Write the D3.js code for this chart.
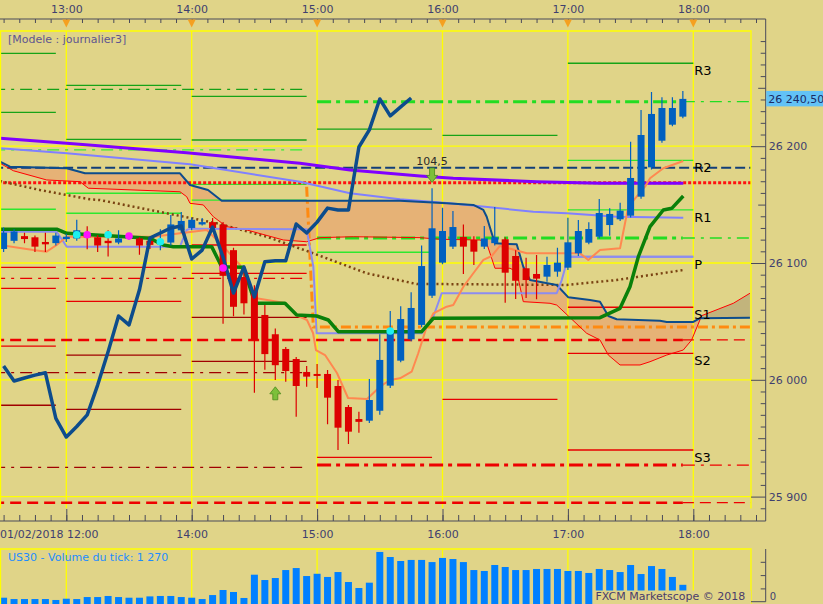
<!DOCTYPE html>
<html>
<head>
<meta charset="utf-8">
<script src="https://cdnjs.cloudflare.com/ajax/libs/d3/7.8.5/d3.min.js"></script>
<style>
html, body { margin:0; padding:0; background:#e0d488; overflow:hidden; }
svg { display:block; font-family:"DejaVu Sans", Verdana, sans-serif; }
</style>
</head>
<body>
<svg id="chart" width="823" height="604"></svg>
<script>
// US30 5 min candles, 01/02/2018 12:30 -> 17:55
var opens  = [26112,26119,26123,26122,26118,26117,26120.5,26121,26124,26122,26119,26117.5,26122,26121,26119,26116,26117.5,26128,26130,26133,26135,26133,26111,26088,26077,26055.5,26039,26026.4,26017.8,26006.7,26005,26005,25994.7,25976.7,25966.4,25965,25973.5,25995,26016.4,26034.7,26047,26072,26100.3,26114,26122.3,26119.7,26114,26117,26120.3,26106,26095.5,26090.6,26088.3,26092.6,26096,26108.3,26117.4,26122.5,26132.5,26137.4,26140.5,26156.8,26181.9,26204.7,26218.4,26225.3];
var highs  = [26130.5,26129,26126,26123.5,26126,26126,26125,26137,26131.5,26124,26128,26128,26125,26122,26121,26129,26141,26143.7,26139,26138.5,26138.5,26135,26113,26092.5,26081,26064,26044,26028,26019.5,26011.8,26013.5,26008.4,25999.8,25978.4,25972.7,26000.7,26039,26059,26063,26075,26115,26164,26147.3,26144.5,26133,26123,26131.7,26148,26122,26111,26104.5,26106.8,26105.4,26113.1,26138.8,26136.8,26134.8,26154.8,26146.8,26151.6,26203.9,26231,26246.4,26241.9,26241.9,26247.3];
var lows   = [26109.5,26117,26117,26109.5,26109.5,26115,26118,26119,26111.7,26109.5,26105.5,26116,26120,26107,26112,26111,26115,26126,26128,26132,26129,26048,26054.5,26056,25989,26008.5,25999.8,25998.4,25968.4,25994,25993,25962,25940,25945,25954.7,25963,25970,25993,26015,26033,26045,26070,26099,26112,26090.6,26098.3,26112,26115,26066,26069.2,26070,26069,26084,26088.3,26094,26106,26116,26121,26123.4,26136,26139,26155,26180,26203,26217,26224];
var closes = [26126,26127,26120.5,26114,26116,26123.5,26122.5,26128,26122,26115,26117,26121,26123,26115,26115.5,26119,26133,26136,26137,26135,26130,26089,26062.5,26065.5,26034,26022,26012.5,26007.5,25994.7,26002.7,26003.7,25984.7,25959,25955.6,25964,25982.7,26017,26041,26052,26061.5,26097.4,26129.7,26127.4,26130.8,26114,26109.7,26121,26122,26091.7,26084.8,26085.4,26086.6,26098.3,26100.3,26117.7,26127.4,26129.1,26142.8,26142,26144.8,26172.8,26209.6,26227.6,26232.7,26232.7,26240.5];
var volumes = [300,200,200,200,200,130,225,200,350,350,430,350,300,300,400,430,430,350,300,200,500,880,730,280,2030,1630,1780,2380,2530,1930,2100,1860,2230,1480,1030,1430,3740,3360,3060,3140,3140,2980,3290,3210,2980,2380,2310,2760,2610,2380,2380,2460,2460,2460,2310,2310,2160,2460,2380,2230,2760,2080,2680,2460,1860,1270];

// lagging line, one value per bar from 12:30
var chikou = [26011.8,25999,26001.5,26004,26006,25967,25951,25960,25970,25995.5,26024,26054.6,26047,26077,26121.4,26125.7,26130,26131.7,26103.4,26111,26130.8,26105,26074.3,26096.6,26071,26101,26102,26102,26133.4,26125.7,26135,26147,26145.4,26145.4,26199.3,26214,26240.4,26226,26233.6,26241.3];

// indicator lines as [bar index, price]
var senkouA = [[-0.34,26185.4],[0.93,26179],[4.12,26171.1],[7.31,26169.6],[8.11,26164],[16.88,26161],[17.52,26156.8],[17.84,26151.1],[19.11,26149.7],[20.07,26139.6],[21.35,26131.1],[23.26,26128.3],[26.77,26119.7],[29.0,26118.2],[30.28,26121.7],[33.46,26122.5],[39.85,26121.7],[41.76,26120.3],[45.59,26119.7],[46.23,26116.9],[47.02,26095.5],[48.46,26095.5],[49.1,26092.6],[49.73,26066.9],[52.29,26065.5],[52.93,26064],[55.8,26039.8],[57.07,26034.1],[57.87,26021.2],[58.99,26012.7],[60.9,26012.7],[61.86,26015.5],[63.46,26021.2],[65.04,26025.5],[65.84,26034.1],[66.8,26054.9],[69.83,26065.5],[71.42,26074.1]];
var senkouB = [[-0.34,26186.7],[0.61,26182.5],[6.04,26181.1],[7.79,26176.8],[16.88,26176.8],[17.84,26166.8],[19.56,26162.5],[20.87,26153.3],[37.93,26153.3],[42.4,26151.1],[44.95,26149.7],[45.91,26145.4],[46.23,26139.6],[46.71,26125.4],[47.02,26116.9],[49.1,26116],[49.73,26096.8],[50.37,26085.4],[52.93,26081.2],[54.04,26070.6],[56.11,26068.3],[57.07,26066.9],[57.87,26054.6],[58.67,26051.8],[62.81,26050.6],[63.46,26049.5],[66.0,26049.5],[66.64,26052.7],[71.42,26053.2]];
var cloudTwist = 66.5;
var purpleMA = [[-0.34,26206.8],[6.04,26202.5],[17.52,26194.4],[28.36,26185.4],[33.15,26179.6],[39.85,26174.5],[43.03,26172.5],[51.01,26169.6],[57.07,26168.2],[65.04,26168.2]];
var lavenderMA = [[-0.34,26198.2],[6.04,26193.9],[17.84,26184.5],[28.36,26169.6],[33.15,26159.7],[37.93,26154.5],[42.72,26151.1],[47.5,26146.8],[50.69,26143.9],[53.89,26142.6],[58.67,26139.6],[65.04,26138.8]];
var kijun = [[-0.34,26126.8],[5.08,26126.8],[6.04,26114],[16.88,26114],[17.52,26128.3],[17.84,26129.4],[29.0,26128.9],[29.64,26096.8],[29.96,26039.8],[40.01,26039.8],[41.12,26054],[41.92,26074.1],[52.93,26074.1],[53.41,26085.4],[54.04,26105.4],[66.0,26105.4]];
var greenLine = [[-0.34,26128.9],[5.08,26128.9],[6.04,26125.4],[14.01,26121.1],[15.28,26115.4],[16.24,26114],[19.91,26114],[20.87,26096.8],[22.94,26096.3],[24.06,26065.5],[26.93,26065.5],[28.05,26055.5],[29.96,26054.6],[31.07,26051.2],[32.03,26041.2],[40.01,26041.2],[41.12,26052.7],[57.07,26053.2],[58.99,26061.2],[59.94,26079.7],[60.74,26105.4],[61.86,26131.1],[63.13,26145.4],[63.94,26146.8],[65.04,26157.4]];
var tenkan = [[-0.34,26115.4],[2.84,26111.1],[4.12,26109.7],[5.08,26115.4],[6.04,26122.5],[14.33,26122.5],[15.61,26124],[16.88,26125.4],[19.44,26128.3],[20.9,26115.4],[22.62,26098.3],[24.06,26070],[26.93,26065.8],[27.98,26055.5],[29.03,26051.2],[29.61,26040.1],[29.89,26025.5],[30.76,26021.2],[31.9,26005.8],[32.96,25984.4],[34.78,25983.6],[36.02,25994.1],[36.98,25999.8],[37.93,26001.3],[39.05,26006.9],[39.68,26022.7],[40.49,26045.5],[41.12,26056.9],[42.4,26062.6],[43.03,26064],[44.0,26079.7],[44.95,26091.2],[45.91,26102.6],[46.71,26106],[47.5,26114.6],[50.06,26108.3],[55.16,26108.3],[55.95,26102.6],[57.07,26111.1],[58.99,26112.6],[59.78,26148.2],[60.58,26156.8],[61.38,26165.3],[61.86,26172.5],[63.13,26181.1],[65.04,26187.3]];
var brownMA = [[-0.34,26170.2],[0.61,26168.2],[3.48,26162.5],[8.27,26154.5],[9.22,26153.9],[15.61,26142.6],[20.39,26134],[25.18,26122.5],[29.64,26108.3],[34.75,26091.2],[39.53,26082],[41.12,26082],[53.89,26081.2],[58.67,26085.4],[61.86,26089.7],[65.04,26094]];
var orangeLevel = [[29.0,26165.3],[29.64,26045.2],[71.42,26045.2]];

// level lines
var navyDashed = [26181.6];
var redDotted = [26168.8];
var redDashed = [26034.1, 25894.8];
var preGreen = [26248.7];
var preLime = [26196.8];
var preRed = [26086.9];
var preDarkRed = [26006.1, 25925.1];
var postLime = [26238.1, 26121.4];
var postRed = [25927];

// hourly pivots [hour, price]
var pivotGreen = [["12:00",26279.5],["12:00",26229],["13:00",26252.1],["13:00",26205.9],["14:00",26242.7],["14:00",26205.3],["15:00",26214.7],["16:00",26209.3],["17:00",26271]];
var pivotLime = [["12:00",26146],["13:00",26159.7],["13:00",26142.6],["14:00",26167.4],["14:00",26153.9],["15:00",26109.2],["17:00",26187.9],["17:00",26145.4]];
var pivotRed = [["12:00",26096.3],["12:00",26078.3],["12:00",26028.9],["13:00",26096.3],["13:00",26067.2],["14:00",26115.4],["14:00",26091.2],["15:00",25933.6],["16:00",25983.3],["17:00",26062.1],["17:00",26022.7],["17:00",25939.9]];
var pivotDarkRed = [["12:00",25978.2],["13:00",26021.2],["13:00",25974.7],["14:00",26053.5],["14:00",26015.8]];
var pivotP = [["17:00",26105.4]];
var currentHour = "17:00";
var pivotNames = ["R3","R2","R1","P","S1","S2","S3"];
var pivotValues = [26271,26187.9,26145.4,26105.4,26062.1,26022.7,25939.9];

// signals [bar index, price]
var cyanDots = [[7,26124.2],[10,26124.2],[15,26118.2],[37,26041.8]];
var magentaDots = [[8,26124.2],[12,26123.1],[21,26095.7]];
var arrowsDown = [[41,26169,"104,5"]];
var arrowsUp = [[26,25994]];

var hourLabelsTop = ["13:00","14:00","15:00","16:00","17:00","18:00"];
var hourLabelsBottom = ["14:00","15:00","16:00","17:00","18:00"];
var dateLabel = "01/02/2018 12:00";
var priceTicks = [25900, 26000, 26100, 26200];
var lastPrice = 26240.5;
var lastVolume = 1270;

var W = 823, H = 604;
var plotR = 751, plotT = 31, plotB = 508.5;
var axisX = 765.7;
var volT = 549, volB = 604;
var bg = "#e0d488";
var axisCol = "#4a4a5a", labelCol = "#3f3f6f";

var t0 = new Date(2018, 1, 1, 12, 30);
var candleTimes = d3.timeMinutes(t0, new Date(2018, 1, 1, 18, 0), 5);
function kTime(k) { return new Date(t0.getTime() + k * 300000); }
function hourDate(s) { var p = s.split(":"); return new Date(2018, 1, 1, +p[0], +p[1]); }

var x = d3.scaleTime().domain([t0, new Date(2018, 1, 1, 18, 0)]).range([3.6, 693.3]);
var y = d3.scaleLinear().domain([25900, 26200]).range([496.6, 146.2]);
var yV = d3.scaleLinear().domain([0, 3000]).range([601.7, 561.8]);
function xk(k) { return x(kTime(k)); }

var fr = d3.formatLocale({decimal: ",", thousands: " ", grouping: [3], currency: ["", ""]});
var fmtPrice = fr.format(",");
var fmtLast = fr.format(",.2f");

var svg = d3.select("#chart");
svg.append("rect").attr("width", W).attr("height", H).attr("fill", bg);

var defs = svg.append("defs");
defs.append("clipPath").attr("id", "plotClip").append("rect")
	.attr("x", 0).attr("y", plotT).attr("width", plotR).attr("height", plotB - plotT);
defs.append("clipPath").attr("id", "volClip").append("rect")
	.attr("x", 0).attr("y", volT).attr("width", plotR).attr("height", volB - volT);
defs.append("clipPath").attr("id", "cloudDown").append("rect")
	.attr("x", 0).attr("y", 0).attr("width", xk(cloudTwist)).attr("height", H);
defs.append("clipPath").attr("id", "cloudUp").append("rect")
	.attr("x", xk(cloudTwist)).attr("y", 0).attr("width", W).attr("height", H);

var plot = svg.append("g").attr("clip-path", "url(#plotClip)");
var line = d3.line().x(d => xk(d[0])).y(d => y(d[1]));

// cloud
var cloudPath = line(senkouA.concat(senkouB.slice().reverse())) + "Z";
plot.append("path").attr("d", cloudPath).attr("fill", "#e6b276").attr("clip-path", "url(#cloudDown)");
plot.append("path").attr("d", cloudPath).attr("fill", "#c2b47c").attr("clip-path", "url(#cloudUp)");

// grid
plot.selectAll(".hgrid").data(priceTicks).enter().append("line")
	.attr("x1", 0).attr("x2", plotR).attr("y1", d => y(d)).attr("y2", d => y(d))
	.attr("stroke", "#ffff00").attr("stroke-width", 1.3);
plot.selectAll(".vgrid").data(hourLabelsTop).enter().append("line")
	.attr("x1", d => x(hourDate(d))).attr("x2", d => x(hourDate(d)))
	.attr("y1", plotT).attr("y2", plotB)
	.attr("stroke", "#ffff00").attr("stroke-width", 1.3);

// hourly pivots
function pivotSegs(data, color, width) {
	plot.selectAll(null).data(data).enter().append("line")
		.attr("x1", d => x(hourDate(d[0])))
		.attr("x2", d => x(new Date(hourDate(d[0]).getTime() + (d[0] == currentHour ? 60 : 55) * 60000)))
		.attr("y1", d => y(d[1])).attr("y2", d => y(d[1]))
		.attr("stroke", color).attr("stroke-width", width);
}
pivotSegs(pivotGreen, "#17a317", 1.3);
pivotSegs(pivotLime, "#2ee82e", 1.3);
pivotSegs(pivotRed, "#e80000", 1.3);
pivotSegs(pivotDarkRed, "#a00000", 1.3);
pivotSegs(pivotP, "#8c8cf0", 2);

// level lines
function levels(data, k0, k1, color, width, dash) {
	plot.selectAll(null).data(data).enter().append("line")
		.attr("x1", xk(k0)).attr("x2", xk(k1))
		.attr("y1", d => y(d)).attr("y2", d => y(d))
		.attr("stroke", color).attr("stroke-width", width)
		.attr("stroke-dasharray", dash);
}
levels(preGreen, -1, 29, "#16a016", 1.3, "12,6,3,6");
levels(preLime, -1, 29, "#33ee33", 1.3, "12,6,3,6");
levels(preRed, -1, 29, "#e80000", 1.3, "12,6,3,6");
levels(preDarkRed, -1, 29, "#a00000", 1.3, "12,6,3,6");
levels(postLime, 30, 65, "#22dd22", 3, "14,5,4,5");
levels(postLime, 65, 72, "#22dd22", 1.3, "12,6,3,6");
levels(postRed, 30, 65, "#ee0000", 3, "14,5,4,5");
levels(postRed, 65, 72, "#ee0000", 1.3, "12,6,3,6");
levels(redDashed, -1, 65, "#ee0000", 2.5, "11,6");
levels(redDashed, 65, 72, "#ee0000", 1.3, "11,6");
levels(navyDashed, -1, 72, "#123e78", 2, "10,4");
levels(redDotted, -1, 72, "#ff1010", 3, "3,2");

plot.append("path").attr("d", line(orangeLevel)).attr("fill", "none")
	.attr("stroke", "#ff8a10").attr("stroke-width", 3).attr("stroke-dasharray", "10,4,3,4");

// indicator lines
function drawLine(data, color, width, dash) {
	plot.append("path").attr("d", line(data)).attr("fill", "none")
		.attr("stroke", color).attr("stroke-width", width)
		.attr("stroke-linejoin", "round")
		.attr("stroke-dasharray", dash || null);
}
drawLine(brownMA, "#7a4312", 2.5, "2,3");
drawLine(purpleMA, "#8000ff", 3);
drawLine(lavenderMA, "#8080ff", 2);
drawLine(senkouA, "#ff0000", 1);
drawLine(senkouB, "#0d4c8c", 2);
drawLine(kijun, "#8c8cf0", 2);
drawLine(tenkan, "#ff8850", 2);
drawLine(greenLine, "#0a800a", 3.5);

// candles
var candles = plot.selectAll(".candle").data(candleTimes).enter().append("g");
candles.append("line")
	.attr("x1", d => x(d)).attr("x2", d => x(d))
	.attr("y1", (d, i) => y(highs[i])).attr("y2", (d, i) => y(lows[i]))
	.attr("stroke", (d, i) => closes[i] >= opens[i] ? "#0060c0" : "#dd0000")
	.attr("stroke-width", 1.2);
candles.append("rect")
	.attr("x", d => x(d) - 3.5).attr("width", 7)
	.attr("y", (d, i) => y(Math.max(opens[i], closes[i])))
	.attr("height", (d, i) => Math.max(2, y(Math.min(opens[i], closes[i])) - y(Math.max(opens[i], closes[i]))))
	.attr("fill", (d, i) => closes[i] >= opens[i] ? "#0060c0" : "#dd0000");

// lagging line
plot.append("path")
	.attr("d", d3.line().x((d, i) => x(candleTimes[i])).y(d => y(d))(chikou))
	.attr("fill", "none").attr("stroke", "#0d4c8c").attr("stroke-width", 3.5)
	.attr("stroke-linejoin", "round");

// signal dots
plot.selectAll(".cy").data(cyanDots).enter().append("circle")
	.attr("cx", d => xk(d[0])).attr("cy", d => y(d[1])).attr("r", 3.8).attr("fill", "#1ef0f0");
plot.selectAll(".mg").data(magentaDots).enter().append("circle")
	.attr("cx", d => xk(d[0])).attr("cy", d => y(d[1])).attr("r", 3.8).attr("fill", "#ff10ff");

// arrows
var downArrow = "M-5.5,-7 L-2.5,-7 L-2.5,-14.5 L2.5,-14.5 L2.5,-7 L5.5,-7 L0,0 Z";
var upArrow = "M-5.5,7 L-2.5,7 L-2.5,13 L2.5,13 L2.5,7 L5.5,7 L0,0 Z";
arrowsDown.forEach(function(a) {
	var gA = svg.append("g").attr("transform", "translate(" + xk(a[0]) + "," + y(a[1]) + ")");
	gA.append("path").attr("d", downArrow).attr("fill", "#7cc03a").attr("stroke", "#4a8a1c").attr("stroke-width", 0.8);
	gA.append("text").attr("x", 0).attr("y", -17.5).attr("text-anchor", "middle")
		.attr("font-size", 11).attr("fill", "#2a2a2a").text(a[2]);
});
arrowsUp.forEach(function(a) {
	svg.append("path").attr("transform", "translate(" + xk(a[0]) + "," + y(a[1]) + ")")
		.attr("d", upArrow).attr("fill", "#7cc03a").attr("stroke", "#4a8a1c").attr("stroke-width", 0.8);
});

// pivot labels
svg.selectAll(".pl").data(pivotNames).enter().append("text")
	.attr("x", x(hourDate("18:00")) + 1).attr("y", (d, i) => y(pivotValues[i]) + 12)
	.attr("font-size", 13).attr("fill", "#000").text(d => d);

svg.append("text").attr("x", 8).attr("y", 43).attr("font-size", 11).attr("fill", "#5e5490")
	.text("[Modele : journalier3]");

// frames
svg.append("path").attr("d", "M0.5," + plotB + " V" + plotT + " H" + plotR + " V" + plotB)
	.attr("fill", "none").attr("stroke", "#ffff00").attr("stroke-width", 1.3);

// volume panel
var vol = svg.append("g").attr("clip-path", "url(#volClip)");
vol.selectAll(".vg").data(hourLabelsTop).enter().append("line")
	.attr("x1", d => x(hourDate(d))).attr("x2", d => x(hourDate(d)))
	.attr("y1", volT).attr("y2", volB).attr("stroke", "#ffff00").attr("stroke-width", 1.3);
vol.selectAll(".vb").data(candleTimes).enter().append("rect")
	.attr("x", d => x(d) - 3.5).attr("width", 7)
	.attr("y", (d, i) => yV(volumes[i])).attr("height", (d, i) => volB + 2 - yV(volumes[i]))
	.attr("fill", "#0080ff");
svg.append("path").attr("d", "M0.5," + volB + " V" + volT + " H" + plotR + " V" + volB)
	.attr("fill", "none").attr("stroke", "#ffff00").attr("stroke-width", 1.3);
svg.append("text").attr("x", 8).attr("y", 560.5).attr("font-size", 11).attr("fill", "#1e8cff")
	.text("US30 - Volume du tick: " + fmtPrice(lastVolume));
svg.append("rect").attr("x", 593).attr("y", 590.5).attr("width", plotR - 593).attr("height", 14).attr("fill", bg);
svg.append("text").attr("x", 595.5).attr("y", 600).attr("font-size", 11).attr("fill", "#4a3c6c")
	.text("FXCM Marketscope \u00a9 2018");

// axes
function styleAxis(g) {
	g.select(".domain").remove();
	g.selectAll(".tick line").attr("stroke", axisCol);
	g.selectAll(".tick text").attr("fill", labelCol).attr("font-size", 11)
		.attr("font-family", "DejaVu Sans, Verdana, sans-serif");
}
var minorTimes = d3.range(0, 49).map(i => new Date(t0.getTime() + i * 450000));

// top
svg.append("line").attr("x1", 0).attr("x2", axisX).attr("y1", 19).attr("y2", 19).attr("stroke", axisCol);
svg.append("g").attr("transform", "translate(0,19)")
	.call(d3.axisBottom(x).tickValues(minorTimes).tickSize(4).tickFormat(""))
	.call(styleAxis);
svg.append("g").attr("transform", "translate(0,13)")
	.call(d3.axisTop(x).tickValues(hourLabelsTop.map(hourDate)).tickSize(0).tickPadding(0).tickFormat(d3.timeFormat("%H:%M")))
	.call(styleAxis);
svg.selectAll(".tri").data(hourLabelsTop).enter().append("path")
	.attr("d", d => "M" + (x(hourDate(d)) - 4) + ",19.5 L" + (x(hourDate(d)) + 4) + ",19.5 L" + x(hourDate(d)) + ",27.5 Z")
	.attr("fill", "#f5a020");

// bottom
svg.append("line").attr("x1", 0).attr("x2", axisX).attr("y1", 521).attr("y2", 521).attr("stroke", axisCol);
svg.append("g").attr("transform", "translate(0,521)")
	.call(d3.axisTop(x).tickValues(minorTimes).tickSize(6).tickFormat(""))
	.call(styleAxis);
svg.append("g").attr("transform", "translate(0,521)")
	.call(d3.axisTop(x).tickValues(hourLabelsTop.map(hourDate)).tickSize(12).tickFormat(""))
	.call(styleAxis);
svg.append("g").attr("transform", "translate(0,521)")
	.call(d3.axisBottom(x).tickValues(hourLabelsBottom.map(hourDate)).tickSize(0).tickPadding(9).tickFormat(d3.timeFormat("%H:%M")))
	.call(styleAxis);
svg.append("text").attr("x", 0).attr("y", 538).attr("font-size", 11).attr("fill", labelCol).text(dateLabel);

// right price axis
svg.append("line").attr("x1", axisX).attr("x2", axisX).attr("y1", 19).attr("y2", 521).attr("stroke", axisCol);
var p10 = d3.range(25890, 26300, 10).filter(v => v % 50 != 0);
var p50 = d3.range(25900, 26300, 50).filter(v => v % 100 != 0);
svg.append("g").attr("transform", "translate(" + axisX + ",0)")
	.call(d3.axisLeft(y).tickValues(p10).tickSize(5).tickFormat("")).call(styleAxis);
svg.append("g").attr("transform", "translate(" + axisX + ",0)")
	.call(d3.axisLeft(y).tickValues(p50).tickSize(7.5).tickFormat("")).call(styleAxis);
svg.append("g").attr("transform", "translate(" + axisX + ",0)")
	.call(d3.axisLeft(y).tickValues(priceTicks).tickSize(axisX - plotR).tickFormat("")).call(styleAxis);
svg.append("g").attr("transform", "translate(" + axisX + ",0)")
	.call(d3.axisRight(y).tickValues(priceTicks).tickSize(0).tickPadding(3).tickFormat(fmtPrice)).call(styleAxis);

// last price box
svg.append("rect").attr("x", axisX + 0.5).attr("y", y(lastPrice) - 8).attr("width", W - axisX).attr("height", 15.5)
	.attr("fill", "#62c2f6");
svg.append("text").attr("x", axisX + 2.5).attr("y", y(lastPrice) + 4).attr("font-size", 11).attr("fill", "#1a2a64")
	.text(fmtLast(lastPrice));

// volume axis
svg.append("line").attr("x1", axisX).attr("x2", axisX).attr("y1", volT).attr("y2", yV(0)).attr("stroke", axisCol);
svg.append("line").attr("x1", plotR).attr("x2", axisX).attr("y1", yV(0)).attr("y2", yV(0)).attr("stroke", axisCol);
svg.append("g").attr("transform", "translate(" + axisX + ",0)")
	.call(d3.axisLeft(yV).tickValues([1000, 2000, 3000]).tickSize(5).tickFormat("")).call(styleAxis);
svg.append("text").attr("x", axisX + 4).attr("y", 600).attr("font-size", 10).attr("fill", labelCol).text("0");
</script>
</body>
</html>
